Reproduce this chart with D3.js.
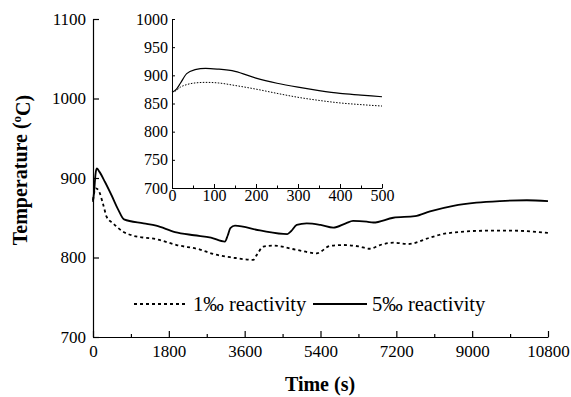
<!DOCTYPE html>
<html>
<head>
<meta charset="utf-8">
<script src="https://cdn.jsdelivr.net/npm/d3@7"></script>
<style>
	body { margin: 0; background: #fff; }
	svg { display: block; }
	svg text { font-family: "Liberation Serif", "DejaVu Serif", serif; }
	.axis path, .axis line { stroke: #000; stroke-width: 1.2; }
	.axis text { fill: #000; }
</style>
</head>
<body>
<div class="container"></div>
<script>

// main run, 5‰ reactivity (solid)
const mainTimes5 = [0, 30, 60, 90, 150, 285, 443, 601, 736, 1200, 1500, 1946, 2400, 2800, 3130, 3200, 3260, 3370, 3964, 4612, 4700, 4835, 5072, 5400, 5704, 6000, 6172, 6500, 6654, 7128, 7643, 8000, 8553, 9100, 9660, 10300, 10800];
const mainTemps5 = [870, 885, 905, 912, 908, 895, 878, 860, 848, 843, 840, 832, 828, 825, 820, 828, 837, 840, 834, 829.5, 833, 841, 843, 841, 837.5, 843, 846, 845, 844, 850, 852, 858, 865, 869, 871, 872, 871];

// main run, 1‰ reactivity (dashed)
const mainTimes1 = [0, 30, 70, 126, 245, 325, 475, 712, 950, 1511, 1986, 2540, 2856, 3300, 3806, 3885, 4043, 4280, 4800, 5310, 5625, 5941, 6300, 6575, 6812, 7128, 7484, 8000, 8395, 9345, 9977, 10800];
const mainTemps1 = [872, 882, 887, 885, 866, 851, 843, 832.5, 827.5, 823, 815.7, 810, 804.4, 800, 797, 803, 813.6, 815, 810, 805.3, 814.5, 815.7, 814, 811, 815.7, 818.6, 817, 825, 830.4, 833.7, 833.7, 831];

// inset, first 500 s
const insetTimes = [0, 10, 20, 35, 55, 80, 110, 150, 200, 250, 300, 350, 400, 450, 500];
const insetTemps5 = [870, 875, 886, 903, 910, 912.5, 911, 907, 895, 886, 879, 873, 868, 865, 862];
const insetTemps1 = [870, 873, 879, 883.5, 886.5, 887.5, 886.5, 882, 875.5, 868, 861, 855.5, 851, 848, 845.5];

const mainXTicks = [0, 1800, 3600, 5400, 7200, 9000, 10800];
const mainXMinor = [900, 2700, 4500, 6300, 8100, 9900];
const mainYTicks = [700, 800, 900, 1000, 1100];
const insetXTicks = [0, 100, 200, 300, 400, 500];
const insetXMinor = [50, 150, 250, 350, 450];
const insetYTicks = [700, 750, 800, 850, 900, 950, 1000];

const legendItems = [
	{ label: "1‰ reactivity", dash: "3,3" },
	{ label: "5‰ reactivity", dash: null }
];

const outerWidth = 571;
const outerHeight = 397;

const svg = d3.select(".container").append("svg")
				.attr("width", outerWidth)
				.attr("height", outerHeight);

// scales
const x = d3.scaleLinear().domain([0, 10800]).range([93, 548]);
const y = d3.scaleLinear().domain([700, 1100]).range([337, 19]);
const xi = d3.scaleLinear().domain([0, 500]).range([172, 382]);
const yi = d3.scaleLinear().domain([700, 1000]).range([188, 19]);

// drop the axis defaults so the page font is used
function serif(g, size) {
	g.attr("font-family", null).attr("font-size", size);
}

// main axes
svg.append("g")
	.attr("class", "axis")
	.attr("transform", `translate(0,${y(700)})`)
	.call(d3.axisBottom(x).tickValues(mainXTicks).tickSize(-6).tickSizeOuter(0).tickPadding(8).tickFormat(d3.format("d")))
	.call(serif, 17);

svg.append("g")
	.attr("class", "axis")
	.attr("transform", `translate(0,${y(700)})`)
	.call(d3.axisBottom(x).tickValues(mainXMinor).tickSize(-3).tickFormat(""))
	.call((g) => g.select(".domain").remove());

svg.append("g")
	.attr("class", "axis")
	.attr("transform", `translate(${x(0)},0)`)
	.call(d3.axisLeft(y).tickValues(mainYTicks).tickSize(-6).tickSizeOuter(0).tickPadding(7).tickFormat(d3.format("d")))
	.call(serif, 17);

// inset axes
svg.append("g")
	.attr("class", "axis")
	.attr("transform", `translate(0,${yi(700)})`)
	.call(d3.axisBottom(xi).tickValues(insetXTicks).tickSize(-4).tickSizeOuter(0).tickPadding(2).tickFormat(d3.format("d")))
	.call(serif, 16)
	.call((g) => g.selectAll("path, line").style("stroke-width", 1));

svg.append("g")
	.attr("class", "axis")
	.attr("transform", `translate(0,${yi(700)})`)
	.call(d3.axisBottom(xi).tickValues(insetXMinor).tickSize(-2.5).tickFormat(""))
	.call((g) => g.select(".domain").remove())
	.call((g) => g.selectAll("line").style("stroke-width", 1));

svg.append("g")
	.attr("class", "axis")
	.attr("transform", `translate(${xi(0)},0)`)
	.call(d3.axisLeft(yi).tickValues(insetYTicks).tickSize(-3).tickSizeOuter(0).tickPadding(4).tickFormat(d3.format("d")))
	.call(serif, 16)
	.call((g) => g.selectAll("path, line").style("stroke-width", 1));

// curves
const mainLine = d3.line()
	.x((d) => x(d[0]))
	.y((d) => y(d[1]))
	.curve(d3.curveMonotoneX);

const insetLine = d3.line()
	.x((d) => xi(d[0]))
	.y((d) => yi(d[1]))
	.curve(d3.curveMonotoneX);

svg.append("path")
	.attr("d", mainLine(d3.zip(mainTimes1, mainTemps1)))
	.style("fill", "none")
	.style("stroke", "#000")
	.style("stroke-width", 1.8)
	.style("stroke-dasharray", "3,3");

svg.append("path")
	.attr("d", mainLine(d3.zip(mainTimes5, mainTemps5)))
	.style("fill", "none")
	.style("stroke", "#000")
	.style("stroke-width", 1.8);

svg.append("path")
	.attr("d", insetLine(d3.zip(insetTimes, insetTemps1)))
	.style("fill", "none")
	.style("stroke", "#000")
	.style("stroke-width", 1)
	.style("stroke-dasharray", "1.5,1.5");

svg.append("path")
	.attr("d", insetLine(d3.zip(insetTimes, insetTemps5)))
	.style("fill", "none")
	.style("stroke", "#000")
	.style("stroke-width", 1.2);

// axis titles
svg.append("text")
	.attr("x", 320)
	.attr("y", 391)
	.attr("text-anchor", "middle")
	.style("font-size", "20px")
	.style("font-weight", "bold")
	.text("Time (s)");

const yTitle = svg.append("text")
	.attr("transform", "translate(27,170) rotate(-90)")
	.attr("text-anchor", "middle")
	.style("font-size", "20px")
	.style("font-weight", "bold");
yTitle.append("tspan").text("Temperature (");
yTitle.append("tspan").attr("dy", "-0.45em").style("font-size", "13px").text("o");
yTitle.append("tspan").attr("dy", "0.45em").text("C)");

// legend
const legendPos = [134, 313];
const legend = svg.append("g")
	.selectAll("g")
		.data(legendItems).enter()
	.append("g")
		.attr("transform", (d, i) => `translate(${legendPos[i]},304)`);

legend
	.append("line")
		.attr("x2", 54)
		.style("stroke", "#000")
		.style("stroke-width", 1.8)
		.style("stroke-dasharray", (d) => d.dash);

legend
	.append("text")
		.attr("x", 59)
		.attr("y", 6.5)
		.style("font-size", "20.5px")
		.text((d) => d.label);

</script>
</body>
</html>
